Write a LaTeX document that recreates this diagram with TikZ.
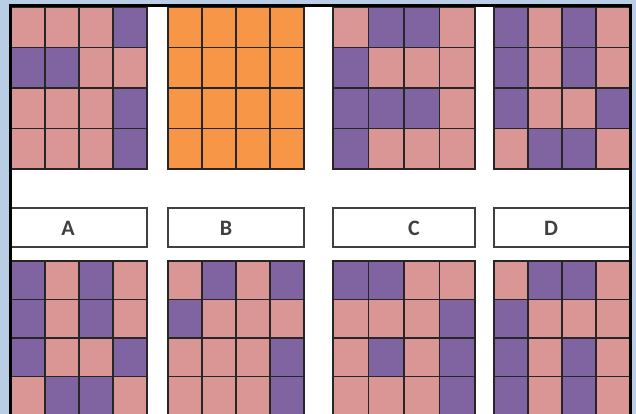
\documentclass[tikz,border=0pt]{standalone}
\usepackage{fontspec}
\setmainfont{Carlito}
\usetikzlibrary{positioning}

\definecolor{cellP}{HTML}{D99694}
\definecolor{cellV}{HTML}{8064A2}
\definecolor{cellO}{HTML}{F79646}
\definecolor{frameblue}{HTML}{B9CDE5}
\definecolor{labgray}{HTML}{404040}

\begin{document}
\begin{tikzpicture}[x=1pt, y=-1pt,
    cell/.style={draw=black!85, line width=1.2pt},
    labbox/.style={rectangle, draw=labgray, line width=1.4pt, fill=white, minimum height=39pt, inner sep=0pt},
    lab/.style={font=\fontsize{22}{24}\selectfont\bfseries, text=labgray}
]

% Background and white sheet
\useasboundingbox (0,0) rectangle (636,414);
\fill[frameblue] (0,0) rectangle (636,414);
\fill[white] (10.5,5.5) rectangle (630,414);

\begin{scope}
\clip (10.5,5.5) rectangle (630,414);

% Top row of grids
\foreach \c [count=\i from 0] in {P,P,P,V, V,V,P,P, P,P,P,V, P,P,P,V}
  \draw[cell, fill=cell\c] ({11+34*mod(\i,4)},{7+40.5*int(\i/4)}) rectangle ++(34,40.5);
\foreach \c [count=\i from 0] in {O,O,O,O, O,O,O,O, O,O,O,O, O,O,O,O}
  \draw[cell, fill=cell\c] ({168+34*mod(\i,4)},{7+40.5*int(\i/4)}) rectangle ++(34,40.5);
\foreach \c [count=\i from 0] in {P,V,V,P, V,P,P,P, V,V,V,P, V,P,P,P}
  \draw[cell, fill=cell\c] ({333+35.5*mod(\i,4)},{7+40.5*int(\i/4)}) rectangle ++(35.5,40.5);
\foreach \c [count=\i from 0] in {V,P,V,P, V,P,V,P, V,P,P,V, P,V,V,P}
  \draw[cell, fill=cell\c] ({494+34*mod(\i,4)},{7+40.5*int(\i/4)}) rectangle ++(34,40.5);

% Labels
\node[labbox, minimum width=157pt] (boxA) at (68.5,227.5) {};
\node[labbox, minimum width=136pt] (boxB) at (236,227.5) {};
\node[labbox, minimum width=142pt] (boxC) at (404,227.5) {};
\node[labbox, minimum width=156pt] (boxD) at (572,227.5) {};
\node[lab] (labA) at (68,228) {A};
\node[lab] (labB) at (226,228) {B};
\node[lab] (labC) at (414,228) {C};
\node[lab] (labD) at (551,228) {D};

% Bottom row of grids
\foreach \c [count=\i from 0] in {V,P,V,P, V,P,V,P, V,P,P,V, P,V,V,P}
  \draw[cell, fill=cell\c] ({11+34*mod(\i,4)},{261+38.5*int(\i/4)}) rectangle ++(34,38.5);
\foreach \c [count=\i from 0] in {P,V,P,V, V,P,P,P, P,P,P,V, P,P,P,V}
  \draw[cell, fill=cell\c] ({168+34*mod(\i,4)},{261+38.5*int(\i/4)}) rectangle ++(34,38.5);
\foreach \c [count=\i from 0] in {V,V,P,P, P,P,P,V, P,V,P,V, P,P,P,V}
  \draw[cell, fill=cell\c] ({333+35.5*mod(\i,4)},{261+38.5*int(\i/4)}) rectangle ++(35.5,38.5);
\foreach \c [count=\i from 0] in {P,V,V,P, V,P,P,P, V,P,V,P, V,P,V,P}
  \draw[cell, fill=cell\c] ({494+34*mod(\i,4)},{261+38.5*int(\i/4)}) rectangle ++(34,38.5);
\end{scope}

% Frame
\draw[line width=3pt] (10.5,416) -- (10.5,5.5) -- (630,5.5) -- (630,416);

\end{tikzpicture}
\end{document}
